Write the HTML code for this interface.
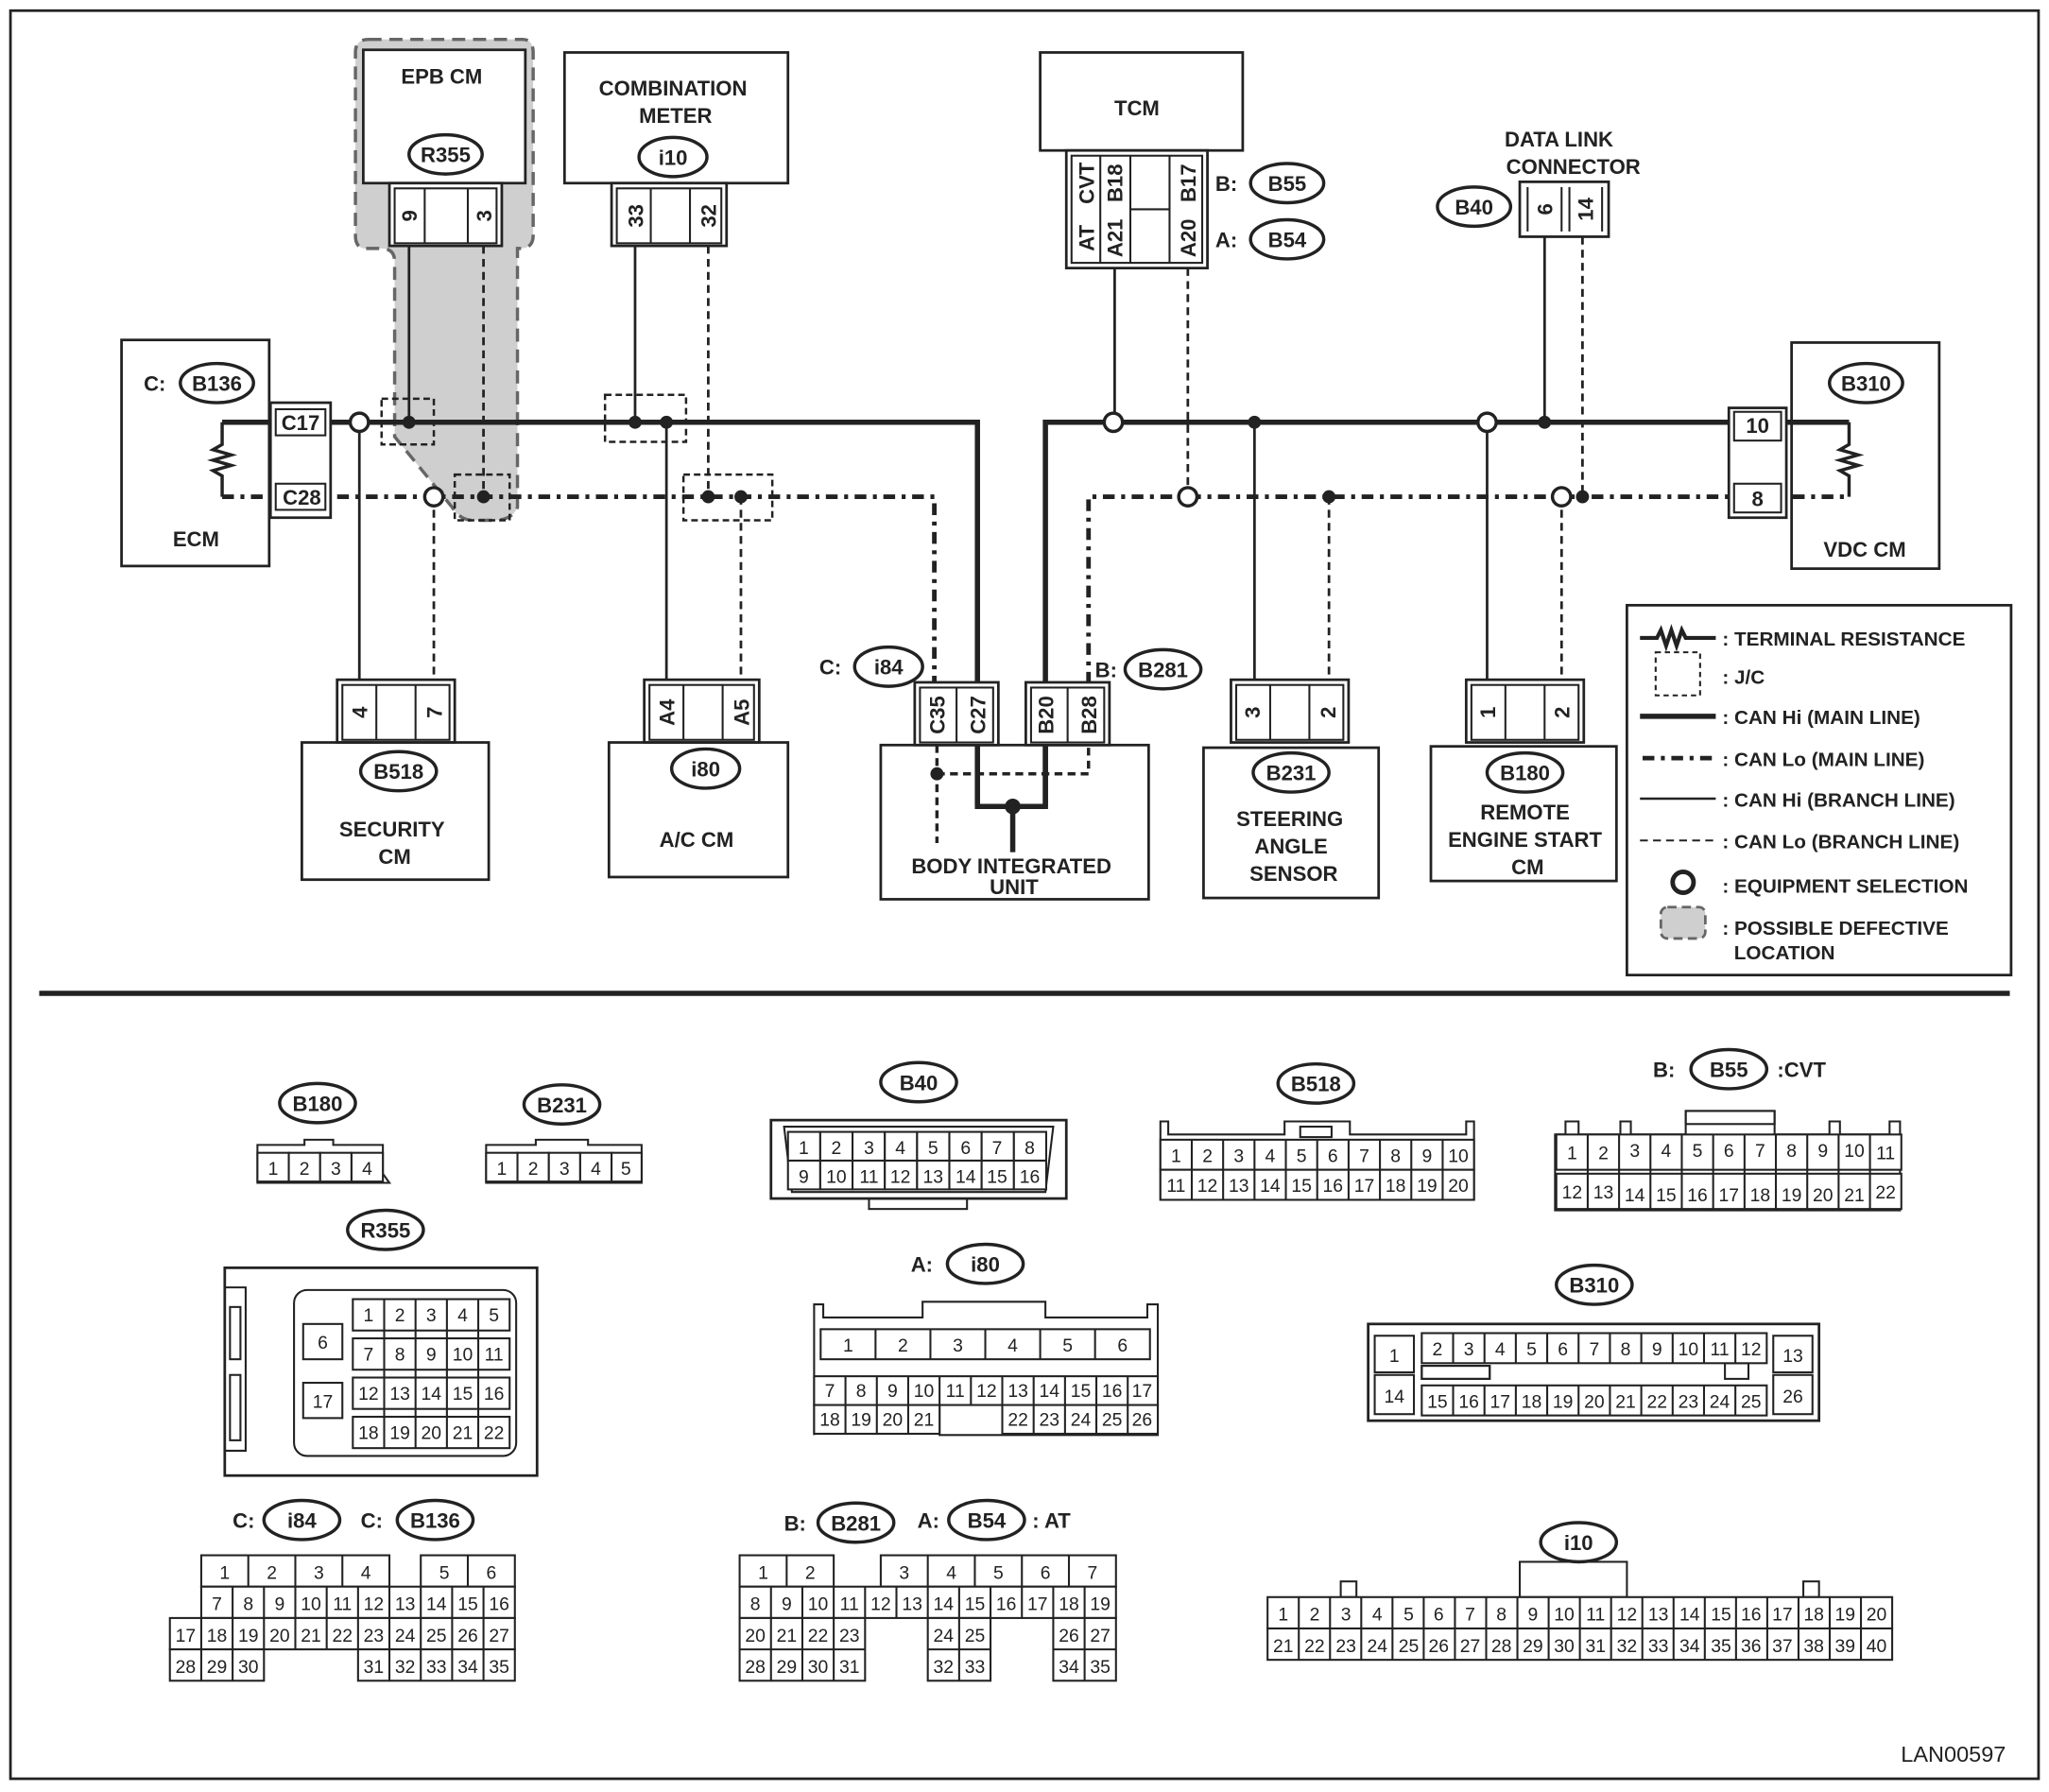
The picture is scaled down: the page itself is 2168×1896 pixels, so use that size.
<!DOCTYPE html>
<html><head><meta charset="utf-8">
<style>
html,body{margin:0;padding:0;background:#fff;}
svg{display:block;}
text{font-family:"Liberation Sans",Arial,sans-serif;fill:#222;}
.b{font-weight:bold;font-size:16px;}
.c{font-size:14px;text-anchor:middle;}
.m{text-anchor:middle;}
</style></head><body>
<svg width="2168" height="1896" viewBox="0 0 1568 1371" xmlns="http://www.w3.org/2000/svg">
<rect x="0" y="0" width="1568" height="1371" fill="#fff"/>
<rect x="8" y="8" width="1552" height="1353" fill="none" stroke="#222" stroke-width="2"/>
<line x1="30" y1="760" x2="1538" y2="760" stroke="#222" stroke-width="4"/>

<g stroke="#222" fill="none">
<!-- gray defective region -->
<path d="M282,30 H400 Q408,30 408,40 V180 Q408,190 398,190 H396 V388 Q392,398 378,398 H362 Q352,398 346,388 L302,334 V200 Q302,190 292,190 H280 Q272,190 272,180 V40 Q272,30 282,30 Z" fill="#cfcfcf" stroke="#666" stroke-width="2.5" stroke-dasharray="10,6"/>

<!-- main lines -->
<polyline points="170,323 748,323 748,617" stroke-width="4"/>
<polyline points="800,617 800,323 1415,323" stroke-width="4"/>
<polyline points="170,380 715,380 715,567" stroke-width="3.5" stroke-dasharray="9,5,3,5"/>
<polyline points="833,567 833,380 1415,380" stroke-width="3.5" stroke-dasharray="9,5,3,5"/>
<!-- resistors -->
<polyline points="170,323 170,340 163,344 177,348 163,352 177,356 163,360 170,364 170,380" stroke-width="2.5"/>
<polyline points="1415,323 1415,340 1408,344 1422,348 1408,352 1422,356 1408,360 1415,364 1415,380" stroke-width="2.5"/>

<!-- ECM -->
<rect x="93" y="260" width="113" height="173" stroke-width="2" fill="#fff" fill-opacity="0"/>
<rect x="207" y="308" width="46" height="88" stroke-width="2" fill="#fff"/>
<rect x="211" y="313" width="38" height="20" stroke-width="1.5"/>
<rect x="211" y="370" width="38" height="20" stroke-width="1.5"/>
<!-- VDC -->
<rect x="1371" y="262" width="113" height="173" stroke-width="2"/>
<rect x="1323" y="312" width="44" height="84" stroke-width="2" fill="#fff"/>
<rect x="1327" y="315" width="36" height="22" stroke-width="1.5"/>
<rect x="1327" y="370" width="36" height="22" stroke-width="1.5"/>

<!-- EPB CM -->
<rect x="278" y="38" width="124" height="102" stroke-width="2" fill="#fff"/>
<rect x="298" y="140" width="86" height="48" stroke-width="2" fill="#fff"/>
<rect x="302" y="144" width="78" height="42" stroke-width="1.5"/>
<line x1="325" y1="144" x2="325" y2="186" stroke-width="1.5"/><line x1="358" y1="144" x2="358" y2="186" stroke-width="1.5"/>
<line x1="313" y1="188" x2="313" y2="323" stroke-width="2"/>
<line x1="370" y1="188" x2="370" y2="380" stroke-width="2" stroke-dasharray="6,4"/>

<!-- combination meter -->
<rect x="432" y="40" width="171" height="100" stroke-width="2"/>
<rect x="468" y="140" width="88" height="48" stroke-width="2" fill="#fff"/>
<rect x="472" y="144" width="80" height="42" stroke-width="1.5"/>
<line x1="498" y1="144" x2="498" y2="186" stroke-width="1.5"/><line x1="528" y1="144" x2="528" y2="186" stroke-width="1.5"/>
<line x1="486" y1="188" x2="486" y2="323" stroke-width="2"/>
<line x1="542" y1="188" x2="542" y2="380" stroke-width="2" stroke-dasharray="6,4"/>

<!-- TCM -->
<rect x="796" y="40" width="155" height="75" stroke-width="2"/>
<rect x="816" y="115" width="108" height="90" stroke-width="2" fill="#fff"/>
<rect x="820" y="119" width="100" height="82" stroke-width="1.5"/>
<line x1="842" y1="119" x2="842" y2="201" stroke-width="1.5"/>
<line x1="865" y1="119" x2="865" y2="201" stroke-width="1.5"/>
<line x1="895" y1="119" x2="895" y2="201" stroke-width="1.5"/>
<line x1="865" y1="160" x2="895" y2="160" stroke-width="1.5"/>
<line x1="853" y1="205" x2="853" y2="323" stroke-width="2"/>
<line x1="909" y1="205" x2="909" y2="380" stroke-width="2" stroke-dasharray="6,4"/>

<!-- DLC -->
<rect x="1163" y="139" width="68" height="42" stroke-width="2" fill="#fff"/>
<line x1="1169" y1="143" x2="1169" y2="177" stroke-width="1.5"/>
<line x1="1195" y1="143" x2="1195" y2="177" stroke-width="1.5"/>
<line x1="1201" y1="143" x2="1201" y2="177" stroke-width="1.5"/>
<line x1="1226" y1="143" x2="1226" y2="177" stroke-width="1.5"/>
<line x1="1182" y1="181" x2="1182" y2="323" stroke-width="2"/>
<line x1="1211" y1="181" x2="1211" y2="380" stroke-width="2" stroke-dasharray="6,4"/>

<!-- J/C boxes -->
<g stroke-width="1.8" stroke-dasharray="5,3">
<rect x="292" y="305" width="40" height="35"/>
<rect x="348" y="363" width="42" height="35"/>
<rect x="463" y="302" width="62" height="36"/>
<rect x="523" y="363" width="68" height="35"/>
</g>

<!-- branch lines down -->
<line x1="275" y1="323" x2="275" y2="522" stroke-width="2"/>
<line x1="332" y1="380" x2="332" y2="522" stroke-width="2" stroke-dasharray="6,4"/>
<line x1="510" y1="323" x2="510" y2="522" stroke-width="2"/>
<line x1="567" y1="380" x2="567" y2="522" stroke-width="2" stroke-dasharray="6,4"/>
<line x1="960" y1="323" x2="960" y2="522" stroke-width="2"/>
<line x1="1017" y1="380" x2="1017" y2="522" stroke-width="2" stroke-dasharray="6,4"/>
<line x1="1138" y1="323" x2="1138" y2="522" stroke-width="2"/>
<line x1="1195" y1="380" x2="1195" y2="522" stroke-width="2" stroke-dasharray="6,4"/>

<!-- Security -->
<rect x="258" y="520" width="90" height="48" stroke-width="2" fill="#fff"/>
<rect x="262" y="524" width="82" height="42" stroke-width="1.5"/>
<line x1="288" y1="524" x2="288" y2="566" stroke-width="1.5"/><line x1="318" y1="524" x2="318" y2="566" stroke-width="1.5"/>
<rect x="231" y="568" width="143" height="105" stroke-width="2"/>
<!-- A/C -->
<rect x="493" y="520" width="88" height="48" stroke-width="2" fill="#fff"/>
<rect x="497" y="524" width="80" height="42" stroke-width="1.5"/>
<line x1="523" y1="524" x2="523" y2="566" stroke-width="1.5"/><line x1="553" y1="524" x2="553" y2="566" stroke-width="1.5"/>
<rect x="466" y="568" width="137" height="103" stroke-width="2"/>
<!-- BIU -->
<rect x="674" y="570" width="205" height="118" stroke-width="2"/>
<rect x="700" y="522" width="64" height="48" stroke-width="2" fill="#fff"/>
<rect x="704" y="526" width="56" height="42" stroke-width="1.5"/>
<line x1="732" y1="526" x2="732" y2="568" stroke-width="1.5"/>
<rect x="785" y="522" width="64" height="48" stroke-width="2" fill="#fff"/>
<rect x="789" y="526" width="56" height="42" stroke-width="1.5"/>
<line x1="817" y1="526" x2="817" y2="568" stroke-width="1.5"/>
<polyline points="748,570 748,617 800,617 800,570" stroke-width="4"/>
<line x1="775" y1="617" x2="775" y2="652" stroke-width="4"/>
<polyline points="717,570 717,645" stroke-width="2.5" stroke-dasharray="6,4"/>
<polyline points="717,592 833,592 833,570" stroke-width="2.5" stroke-dasharray="6,4"/>
<!-- Steering -->
<rect x="942" y="520" width="90" height="48" stroke-width="2" fill="#fff"/>
<rect x="946" y="524" width="82" height="42" stroke-width="1.5"/>
<line x1="972" y1="524" x2="972" y2="566" stroke-width="1.5"/><line x1="1002" y1="524" x2="1002" y2="566" stroke-width="1.5"/>
<rect x="921" y="572" width="134" height="115" stroke-width="2"/>
<!-- Remote -->
<rect x="1122" y="520" width="90" height="48" stroke-width="2" fill="#fff"/>
<rect x="1126" y="524" width="82" height="42" stroke-width="1.5"/>
<line x1="1152" y1="524" x2="1152" y2="566" stroke-width="1.5"/><line x1="1182" y1="524" x2="1182" y2="566" stroke-width="1.5"/>
<rect x="1095" y="571" width="142" height="103" stroke-width="2"/>

<!-- ovals -->
<g stroke-width="2.5" fill="#fff">
<ellipse cx="166" cy="293" rx="28" ry="15"/>
<ellipse cx="341" cy="118" rx="28" ry="15"/>
<ellipse cx="515" cy="120" rx="26" ry="15"/>
<ellipse cx="985" cy="140" rx="28" ry="15"/>
<ellipse cx="985" cy="183" rx="28" ry="15"/>
<ellipse cx="1128" cy="158" rx="28" ry="15"/>
<ellipse cx="1428" cy="293" rx="28" ry="15"/>
<ellipse cx="305" cy="590" rx="29" ry="15"/>
<ellipse cx="540" cy="588" rx="26" ry="15"/>
<ellipse cx="680" cy="510" rx="26" ry="15"/>
<ellipse cx="890" cy="512" rx="29" ry="15"/>
<ellipse cx="988" cy="591" rx="29" ry="15"/>
<ellipse cx="1167" cy="591" rx="29" ry="15"/>
</g>
<!-- open circles -->
<g stroke-width="2.5" fill="#fff">
<circle cx="275" cy="323" r="7"/><circle cx="332" cy="380" r="7"/>
<circle cx="852" cy="323" r="7"/><circle cx="909" cy="380" r="7"/>
<circle cx="1138" cy="323" r="7"/><circle cx="1195" cy="380" r="7"/>
</g>
</g>
<!-- dots -->
<g fill="#222">
<circle cx="313" cy="323" r="5"/><circle cx="370" cy="380" r="5"/>
<circle cx="486" cy="323" r="5"/><circle cx="510" cy="323" r="5"/>
<circle cx="542" cy="380" r="5"/><circle cx="567" cy="380" r="5"/>
<circle cx="960" cy="323" r="5"/><circle cx="1182" cy="323" r="5"/>
<circle cx="1017" cy="380" r="5"/><circle cx="1211" cy="380" r="5"/>
<circle cx="717" cy="592" r="5"/><circle cx="775" cy="617" r="6"/>
</g>

<!-- top labels -->
<g class="b">
<text x="338" y="64" class="m">EPB CM</text>
<text x="341" y="124" class="m">R355</text>
<text x="515" y="73" class="m">COMBINATION</text>
<text x="517" y="94" class="m">METER</text>
<text x="515" y="126" class="m">i10</text>
<text x="870" y="88" class="m">TCM</text>
<text x="930" y="146">B:</text><text x="985" y="146" class="m">B55</text>
<text x="930" y="189">A:</text><text x="985" y="189" class="m">B54</text>
<text x="1193" y="112" class="m">DATA LINK</text>
<text x="1204" y="133" class="m">CONNECTOR</text>
<text x="1128" y="164" class="m">B40</text>
<text x="110" y="299">C:</text><text x="166" y="299" class="m">B136</text>
<text x="150" y="418" class="m">ECM</text>
<text x="1428" y="299" class="m">B310</text>
<text x="1427" y="426" class="m">VDC CM</text>
<text x="230" y="329" class="m">C17</text><text x="231" y="386" class="m">C28</text>
<text x="1345" y="331" class="m">10</text><text x="1345" y="387" class="m">8</text>
<text x="305" y="596" class="m">B518</text>
<text x="300" y="640" class="m">SECURITY</text><text x="302" y="661" class="m">CM</text>
<text x="540" y="594" class="m">i80</text>
<text x="533" y="648" class="m">A/C CM</text>
<text x="627" y="516">C:</text><text x="680" y="516" class="m">i84</text>
<text x="838" y="518">B:</text><text x="890" y="518" class="m">B281</text>
<text x="774" y="668" class="m">BODY INTEGRATED</text><text x="776" y="684" class="m">UNIT</text>
<text x="988" y="597" class="m">B231</text>
<text x="987" y="632" class="m">STEERING</text><text x="988" y="653" class="m">ANGLE</text><text x="990" y="674" class="m">SENSOR</text>
<text x="1167" y="597" class="m">B180</text>
<text x="1167" y="627" class="m">REMOTE</text><text x="1167" y="648" class="m">ENGINE START</text><text x="1169" y="669" class="m">CM</text>
</g>
<!-- rotated pin labels -->
<g class="b">
<text transform="translate(319,165) rotate(-90)" class="m">9</text>
<text transform="translate(376,165) rotate(-90)" class="m">3</text>
<text transform="translate(492,165) rotate(-90)" class="m">33</text>
<text transform="translate(548,165) rotate(-90)" class="m">32</text>
<text transform="translate(837,140) rotate(-90)" class="m">CVT</text>
<text transform="translate(837,182) rotate(-90)" class="m">AT</text>
<text transform="translate(859,140) rotate(-90)" class="m">B18</text>
<text transform="translate(859,182) rotate(-90)" class="m">A21</text>
<text transform="translate(915,140) rotate(-90)" class="m">B17</text>
<text transform="translate(915,182) rotate(-90)" class="m">A20</text>
<text transform="translate(1188,160) rotate(-90)" class="m">6</text>
<text transform="translate(1219,160) rotate(-90)" class="m">14</text>
<text transform="translate(281,545) rotate(-90)" class="m">4</text>
<text transform="translate(338,545) rotate(-90)" class="m">7</text>
<text transform="translate(516,545) rotate(-90)" class="m">A4</text>
<text transform="translate(573,545) rotate(-90)" class="m">A5</text>
<text transform="translate(723,547) rotate(-90)" class="m">C35</text>
<text transform="translate(754,547) rotate(-90)" class="m">C27</text>
<text transform="translate(806,547) rotate(-90)" class="m">B20</text>
<text transform="translate(839,547) rotate(-90)" class="m">B28</text>
<text transform="translate(964,545) rotate(-90)" class="m">3</text>
<text transform="translate(1022,545) rotate(-90)" class="m">2</text>
<text transform="translate(1144,545) rotate(-90)" class="m">1</text>
<text transform="translate(1201,545) rotate(-90)" class="m">2</text>
</g>

<!-- legend -->
<g stroke="#222" fill="none">
<rect x="1245" y="463" width="294" height="283" stroke-width="2"/>
<polyline points="1255,488 1268,488 1271,482 1275,494 1279,482 1283,494 1287,482 1290,488 1313,488" stroke-width="3"/>
<rect x="1267" y="499" width="34" height="33" stroke-width="1.5" stroke-dasharray="4,3"/>
<line x1="1255" y1="548" x2="1313" y2="548" stroke-width="4"/>
<line x1="1257" y1="580" x2="1313" y2="580" stroke-width="3.5" stroke-dasharray="9,5,3,5"/>
<line x1="1255" y1="611" x2="1313" y2="611" stroke-width="1.8"/>
<line x1="1255" y1="643" x2="1313" y2="643" stroke-width="1.5" stroke-dasharray="6,4"/>
<circle cx="1288" cy="675" r="8" stroke-width="3.5"/>
<rect x="1271" y="694" width="34" height="24" rx="5" fill="#cfcfcf" stroke="#666" stroke-width="2" stroke-dasharray="7,4"/>
</g>
<g class="b" style="font-size:15px">
<text x="1318" y="494">: TERMINAL RESISTANCE</text>
<text x="1318" y="523">: J/C</text>
<text x="1318" y="554">: CAN Hi (MAIN LINE)</text>
<text x="1318" y="586">: CAN Lo (MAIN LINE)</text>
<text x="1318" y="617">: CAN Hi (BRANCH LINE)</text>
<text x="1318" y="649">: CAN Lo (BRANCH LINE)</text>
<text x="1318" y="683">: EQUIPMENT SELECTION</text>
<text x="1318" y="715">: POSSIBLE DEFECTIVE</text>
<text x="1327" y="734">LOCATION</text>
</g>

<!-- ===== lower connectors ===== -->
<g stroke="#222" fill="none" stroke-width="2.5">
<ellipse cx="243" cy="844" rx="29" ry="15"/>
<ellipse cx="430" cy="845" rx="29" ry="15"/>
<ellipse cx="703" cy="828" rx="29" ry="15"/>
<ellipse cx="1007" cy="829" rx="29" ry="15"/>
<ellipse cx="1323" cy="818" rx="29" ry="15"/>
<ellipse cx="295" cy="941" rx="29" ry="15"/>
<ellipse cx="754" cy="967" rx="29" ry="15"/>
<ellipse cx="1220" cy="983" rx="29" ry="15"/>
<ellipse cx="231" cy="1163" rx="29" ry="15"/>
<ellipse cx="333" cy="1163" rx="29" ry="15"/>
<ellipse cx="655" cy="1165" rx="29" ry="15"/>
<ellipse cx="755" cy="1163" rx="29" ry="15"/>
<ellipse cx="1208" cy="1180" rx="29" ry="15"/>
</g>
<g class="b">
<text x="243" y="850" class="m">B180</text>
<text x="430" y="851" class="m">B231</text>
<text x="703" y="834" class="m">B40</text>
<text x="1007" y="835" class="m">B518</text>
<text x="1265" y="824">B:</text><text x="1323" y="824" class="m">B55</text><text x="1360" y="824">:CVT</text>
<text x="295" y="947" class="m">R355</text>
<text x="697" y="973">A:</text><text x="754" y="973" class="m">i80</text>
<text x="1220" y="989" class="m">B310</text>
<text x="178" y="1169">C:</text><text x="231" y="1169" class="m">i84</text>
<text x="276" y="1169">C:</text><text x="333" y="1169" class="m">B136</text>
<text x="600" y="1171">B:</text><text x="655" y="1171" class="m">B281</text>
<text x="702" y="1169">A:</text><text x="755" y="1169" class="m">B54</text><text x="790" y="1169">: AT</text>
<text x="1208" y="1186" class="m">i10</text>
</g>

<g stroke="#222" fill="none" stroke-width="1.5">
<!-- B180 -->
<path d="M197,905 V876 H233 V872 H255 V876 H293 V898 L298,905 Z"/>
<!-- B231 -->
<path d="M372,905 V876 H410 V872 H450 V876 H491 V905 Z"/>
<!-- B40 -->
<rect x="590" y="857" width="226" height="60" stroke-width="2"/>
<path d="M600,862 H806 L800,912 H606 Z"/>
<rect x="665" y="917" width="75" height="8"/>
<!-- B518 -->
<path d="M888,918 V858 H894 V868 H983 V858 H1033 V868 H1122 V858 H1128 V918 Z"/>
<rect x="995" y="862" width="24" height="8"/>
<!-- B55 -->
<path d="M1190,926 V868 H1198 V858 H1208 V868 H1240 V858 H1248 V868 H1290 V850 H1358 V868 H1400 V858 H1408 V868 H1446 V858 H1454 V926 Z"/>
<rect x="1290" y="850" width="68" height="10"/>
<!-- R355 -->
<rect x="172" y="970" width="239" height="159" stroke-width="2"/>
<rect x="225" y="987" width="170" height="127" rx="10"/>
<path d="M172,985 H188 V1110 H172"/>
<rect x="176" y="1000" width="8" height="40"/><rect x="176" y="1052" width="8" height="50"/>
<!-- i80 -->
<path d="M623,1098 V998 H630 V1008 H706 V996 H800 V1008 H878 V998 H886 V1098 H719 V1075 H623"/>
<!-- B310 -->
<rect x="1047" y="1013" width="345" height="74" stroke-width="2"/>
<rect x="1088" y="1045" width="52" height="10"/>
<rect x="1320" y="1043" width="18" height="12"/>
<!-- i10 -->
<rect x="1163" y="1195" width="82" height="27"/>
<rect x="1026" y="1210" width="12" height="12"/><rect x="1380" y="1210" width="12" height="12"/>
</g>

<!-- cell grids -->
<g stroke="#222" fill="#fff" stroke-width="1.5">
<!-- B180 -->
<rect x="197" y="882" width="24" height="22"/><rect x="221" y="882" width="24" height="22"/><rect x="245" y="882" width="24" height="22"/><rect x="269" y="882" width="24" height="22"/>
<!-- B231 -->
<rect x="372" y="882" width="24" height="22"/><rect x="396" y="882" width="24" height="22"/><rect x="420" y="882" width="24" height="22"/><rect x="444" y="882" width="24" height="22"/><rect x="468" y="882" width="23" height="22"/>
<!-- B40 -->
<rect x="603" y="866" width="24.7" height="22"/><rect x="627.7" y="866" width="24.7" height="22"/><rect x="652.4" y="866" width="24.7" height="22"/><rect x="677.1" y="866" width="24.7" height="22"/><rect x="701.8" y="866" width="24.7" height="22"/><rect x="726.5" y="866" width="24.7" height="22"/><rect x="751.2" y="866" width="24.7" height="22"/><rect x="775.9" y="866" width="24.7" height="22"/>
<rect x="603" y="888" width="24.7" height="22"/><rect x="627.7" y="888" width="24.7" height="22"/><rect x="652.4" y="888" width="24.7" height="22"/><rect x="677.1" y="888" width="24.7" height="22"/><rect x="701.8" y="888" width="24.7" height="22"/><rect x="726.5" y="888" width="24.7" height="22"/><rect x="751.2" y="888" width="24.7" height="22"/><rect x="775.9" y="888" width="24.7" height="22"/>
</g>
<g class="c">
<text x="209" y="899">1</text><text x="233" y="899">2</text><text x="257" y="899">3</text><text x="281" y="899">4</text>
<text x="384" y="899">1</text><text x="408" y="899">2</text><text x="432" y="899">3</text><text x="456" y="899">4</text><text x="479" y="899">5</text>
<text x="615" y="883">1</text><text x="640" y="883">2</text><text x="665" y="883">3</text><text x="689" y="883">4</text><text x="714" y="883">5</text><text x="739" y="883">6</text><text x="763" y="883">7</text><text x="788" y="883">8</text>
<text x="615" y="905">9</text><text x="640" y="905">10</text><text x="665" y="905">11</text><text x="689" y="905">12</text><text x="714" y="905">13</text><text x="739" y="905">14</text><text x="763" y="905">15</text><text x="788" y="905">16</text>
</g>

<!-- B518 cells -->
<g stroke="#222" fill="#fff" stroke-width="1.5">
<rect x="888" y="872" width="240" height="23"/><rect x="888" y="895" width="240" height="23"/>
<path d="M912,872V918M936,872V918M960,872V918M984,872V918M1008,872V918M1032,872V918M1056,872V918M1080,872V918M1104,872V918" fill="none"/>
<!-- B55 -->
<rect x="1191" y="868" width="264" height="27"/><rect x="1191" y="898" width="264" height="27"/>
<path d="M1215,868V925M1239,868V925M1263,868V925M1287,868V925M1311,868V925M1335,868V925M1359,868V925M1383,868V925M1407,868V925M1431,868V925" fill="none"/>
</g>
<g class="c">
<text x="900" y="889">1</text><text x="924" y="889">2</text><text x="948" y="889">3</text><text x="972" y="889">4</text><text x="996" y="889">5</text><text x="1020" y="889">6</text><text x="1044" y="889">7</text><text x="1068" y="889">8</text><text x="1092" y="889">9</text><text x="1116" y="889">10</text>
<text x="900" y="912">11</text><text x="924" y="912">12</text><text x="948" y="912">13</text><text x="972" y="912">14</text><text x="996" y="912">15</text><text x="1020" y="912">16</text><text x="1044" y="912">17</text><text x="1068" y="912">18</text><text x="1092" y="912">19</text><text x="1116" y="912">20</text>
<text x="1203" y="887">1</text><text x="1227" y="887">2</text><text x="1251" y="885">3</text><text x="1275" y="885">4</text><text x="1299" y="885">5</text><text x="1323" y="885">6</text><text x="1347" y="885">7</text><text x="1371" y="885">8</text><text x="1395" y="885">9</text><text x="1419" y="885">10</text><text x="1443" y="887">11</text>
<text x="1203" y="917">12</text><text x="1227" y="917">13</text><text x="1251" y="919">14</text><text x="1275" y="919">15</text><text x="1299" y="919">16</text><text x="1323" y="919">17</text><text x="1347" y="919">18</text><text x="1371" y="919">19</text><text x="1395" y="919">20</text><text x="1419" y="919">21</text><text x="1443" y="917">22</text>
</g>

<!-- R355 cells -->
<g stroke="#222" fill="#fff" stroke-width="1.5">
<rect x="232" y="1013" width="30" height="27"/><rect x="232" y="1058" width="30" height="27"/>
<rect x="270" y="994" width="120" height="24"/><rect x="270" y="1024" width="120" height="24"/><rect x="270" y="1054" width="120" height="24"/><rect x="270" y="1084" width="120" height="24"/>
<path d="M294,994V1108M318,994V1108M342,994V1108M366,994V1108" fill="none"/>
</g>
<g class="c">
<text x="247" y="1032">6</text><text x="247" y="1077">17</text>
<text x="282" y="1011">1</text><text x="306" y="1011">2</text><text x="330" y="1011">3</text><text x="354" y="1011">4</text><text x="378" y="1011">5</text>
<text x="282" y="1041">7</text><text x="306" y="1041">8</text><text x="330" y="1041">9</text><text x="354" y="1041">10</text><text x="378" y="1041">11</text>
<text x="282" y="1071">12</text><text x="306" y="1071">13</text><text x="330" y="1071">14</text><text x="354" y="1071">15</text><text x="378" y="1071">16</text>
<text x="282" y="1101">18</text><text x="306" y="1101">19</text><text x="330" y="1101">20</text><text x="354" y="1101">21</text><text x="378" y="1101">22</text>
</g>

<!-- i80 cells -->
<g stroke="#222" fill="#fff" stroke-width="1.5">
<rect x="628" y="1017" width="252" height="23"/>
<path d="M670,1017V1040M712,1017V1040M754,1017V1040M796,1017V1040M838,1017V1040" fill="none"/>
<rect x="623" y="1053" width="263" height="22"/>
<path d="M647,1053V1075M671,1053V1075M695,1053V1075M719,1053V1075M743,1053V1075M767,1053V1075M791,1053V1075M815,1053V1075M839,1053V1075M863,1053V1075" fill="none"/>
<rect x="623" y="1075" width="96" height="22"/>
<path d="M647,1075V1097M671,1075V1097M695,1075V1097" fill="none"/>
<rect x="767" y="1075" width="119" height="22"/>
<path d="M791,1075V1097M815,1075V1097M839,1075V1097M863,1075V1097" fill="none"/>
</g>
<g class="c">
<text x="649" y="1034">1</text><text x="691" y="1034">2</text><text x="733" y="1034">3</text><text x="775" y="1034">4</text><text x="817" y="1034">5</text><text x="859" y="1034">6</text>
<text x="635" y="1069">7</text><text x="659" y="1069">8</text><text x="683" y="1069">9</text><text x="707" y="1069">10</text><text x="731" y="1069">11</text><text x="755" y="1069">12</text><text x="779" y="1069">13</text><text x="803" y="1069">14</text><text x="827" y="1069">15</text><text x="851" y="1069">16</text><text x="874" y="1069">17</text>
<text x="635" y="1091">18</text><text x="659" y="1091">19</text><text x="683" y="1091">20</text><text x="707" y="1091">21</text>
<text x="779" y="1091">22</text><text x="803" y="1091">23</text><text x="827" y="1091">24</text><text x="851" y="1091">25</text><text x="874" y="1091">26</text>
</g>

<!-- B310 cells -->
<g stroke="#222" fill="#fff" stroke-width="1.5">
<rect x="1052" y="1022" width="30" height="28"/><rect x="1052" y="1052" width="30" height="30"/>
<rect x="1357" y="1022" width="30" height="28"/><rect x="1357" y="1052" width="30" height="30"/>
<rect x="1088" y="1020" width="264" height="23"/><rect x="1088" y="1060" width="264" height="23"/>
<path d="M1112,1020V1043M1136,1020V1043M1160,1020V1043M1184,1020V1043M1208,1020V1043M1232,1020V1043M1256,1020V1043M1280,1020V1043M1304,1020V1043M1328,1020V1043M1112,1060V1083M1136,1060V1083M1160,1060V1083M1184,1060V1083M1208,1060V1083M1232,1060V1083M1256,1060V1083M1280,1060V1083M1304,1060V1083M1328,1060V1083" fill="none"/>
<rect x="1088" y="1045" width="52" height="10" fill="none"/>
</g>
<g class="c">
<text x="1067" y="1042">1</text><text x="1067" y="1073">14</text><text x="1372" y="1042">13</text><text x="1372" y="1073">26</text>
<text x="1100" y="1037">2</text><text x="1124" y="1037">3</text><text x="1148" y="1037">4</text><text x="1172" y="1037">5</text><text x="1196" y="1037">6</text><text x="1220" y="1037">7</text><text x="1244" y="1037">8</text><text x="1268" y="1037">9</text><text x="1292" y="1037">10</text><text x="1316" y="1037">11</text><text x="1340" y="1037">12</text>
<text x="1100" y="1077">15</text><text x="1124" y="1077">16</text><text x="1148" y="1077">17</text><text x="1172" y="1077">18</text><text x="1196" y="1077">19</text><text x="1220" y="1077">20</text><text x="1244" y="1077">21</text><text x="1268" y="1077">22</text><text x="1292" y="1077">23</text><text x="1316" y="1077">24</text><text x="1340" y="1077">25</text>
</g>

<!-- C:i84 / C:B136 -->
<g stroke="#222" fill="#fff" stroke-width="1.5">
<rect x="154" y="1190" width="144" height="24"/><path d="M190,1190V1214M226,1190V1214M262,1190V1214" fill="none"/>
<rect x="322" y="1190" width="72" height="24"/><path d="M358,1190V1214" fill="none"/>
<rect x="154" y="1214" width="240" height="24"/><path d="M178,1214V1238M202,1214V1238M226,1214V1238M250,1214V1238M274,1214V1238M298,1214V1238M322,1214V1238M346,1214V1238M370,1214V1238" fill="none"/>
<rect x="130" y="1238" width="264" height="24"/><path d="M154,1238V1262M178,1238V1262M202,1238V1262M226,1238V1262M250,1238V1262M274,1238V1262M298,1238V1262M322,1238V1262M346,1238V1262M370,1238V1262" fill="none"/>
<rect x="130" y="1262" width="72" height="24"/><path d="M154,1262V1286M178,1262V1286" fill="none"/>
<rect x="274" y="1262" width="120" height="24"/><path d="M298,1262V1286M322,1262V1286M346,1262V1286M370,1262V1286" fill="none"/>
</g>
<g class="c">
<text x="172" y="1208">1</text><text x="208" y="1208">2</text><text x="244" y="1208">3</text><text x="280" y="1208">4</text><text x="340" y="1208">5</text><text x="376" y="1208">6</text>
<text x="166" y="1232">7</text><text x="190" y="1232">8</text><text x="214" y="1232">9</text><text x="238" y="1232">10</text><text x="262" y="1232">11</text><text x="286" y="1232">12</text><text x="310" y="1232">13</text><text x="334" y="1232">14</text><text x="358" y="1232">15</text><text x="382" y="1232">16</text>
<text x="142" y="1256">17</text><text x="166" y="1256">18</text><text x="190" y="1256">19</text><text x="214" y="1256">20</text><text x="238" y="1256">21</text><text x="262" y="1256">22</text><text x="286" y="1256">23</text><text x="310" y="1256">24</text><text x="334" y="1256">25</text><text x="358" y="1256">26</text><text x="382" y="1256">27</text>
<text x="142" y="1280">28</text><text x="166" y="1280">29</text><text x="190" y="1280">30</text>
<text x="286" y="1280">31</text><text x="310" y="1280">32</text><text x="334" y="1280">33</text><text x="358" y="1280">34</text><text x="382" y="1280">35</text>
</g>

<!-- B281 / B54 -->
<g stroke="#222" fill="#fff" stroke-width="1.5">
<rect x="566" y="1190" width="72" height="24"/><path d="M602,1190V1214" fill="none"/>
<rect x="674" y="1190" width="180" height="24"/><path d="M710,1190V1214M746,1190V1214M782,1190V1214M818,1190V1214" fill="none"/>
<rect x="566" y="1214" width="288" height="24"/><path d="M590,1214V1238M614,1214V1238M638,1214V1238M662,1214V1238M686,1214V1238M710,1214V1238M734,1214V1238M758,1214V1238M782,1214V1238M806,1214V1238M830,1214V1238" fill="none"/>
<rect x="566" y="1238" width="96" height="48"/><path d="M590,1238V1286M614,1238V1286M638,1238V1286M566,1262H662" fill="none"/>
<rect x="710" y="1238" width="48" height="48"/><path d="M734,1238V1286M710,1262H758" fill="none"/>
<rect x="806" y="1238" width="48" height="48"/><path d="M830,1238V1286M806,1262H854" fill="none"/>
</g>
<g class="c">
<text x="584" y="1208">1</text><text x="620" y="1208">2</text><text x="692" y="1208">3</text><text x="728" y="1208">4</text><text x="764" y="1208">5</text><text x="800" y="1208">6</text><text x="836" y="1208">7</text>
<text x="578" y="1232">8</text><text x="602" y="1232">9</text><text x="626" y="1232">10</text><text x="650" y="1232">11</text><text x="674" y="1232">12</text><text x="698" y="1232">13</text><text x="722" y="1232">14</text><text x="746" y="1232">15</text><text x="770" y="1232">16</text><text x="794" y="1232">17</text><text x="818" y="1232">18</text><text x="842" y="1232">19</text>
<text x="578" y="1256">20</text><text x="602" y="1256">21</text><text x="626" y="1256">22</text><text x="650" y="1256">23</text><text x="722" y="1256">24</text><text x="746" y="1256">25</text><text x="818" y="1256">26</text><text x="842" y="1256">27</text>
<text x="578" y="1280">28</text><text x="602" y="1280">29</text><text x="626" y="1280">30</text><text x="650" y="1280">31</text><text x="722" y="1280">32</text><text x="746" y="1280">33</text><text x="818" y="1280">34</text><text x="842" y="1280">35</text>
</g>

<!-- i10 -->
<g stroke="#222" fill="#fff" stroke-width="1.5">
<rect x="970" y="1222" width="478" height="24"/><rect x="970" y="1246" width="478" height="24"/>
<path d="M993.9,1222V1270M1017.8,1222V1270M1041.7,1222V1270M1065.6,1222V1270M1089.5,1222V1270M1113.4,1222V1270M1137.3,1222V1270M1161.2,1222V1270M1185.1,1222V1270M1209,1222V1270M1232.9,1222V1270M1256.8,1222V1270M1280.7,1222V1270M1304.6,1222V1270M1328.5,1222V1270M1352.4,1222V1270M1376.3,1222V1270M1400.2,1222V1270M1424.1,1222V1270" fill="none"/>
</g>
<g class="c">
<text x="982" y="1240">1</text><text x="1006" y="1240">2</text><text x="1030" y="1240">3</text><text x="1054" y="1240">4</text><text x="1078" y="1240">5</text><text x="1101" y="1240">6</text><text x="1125" y="1240">7</text><text x="1149" y="1240">8</text><text x="1173" y="1240">9</text><text x="1197" y="1240">10</text><text x="1221" y="1240">11</text><text x="1245" y="1240">12</text><text x="1269" y="1240">13</text><text x="1293" y="1240">14</text><text x="1317" y="1240">15</text><text x="1340" y="1240">16</text><text x="1364" y="1240">17</text><text x="1388" y="1240">18</text><text x="1412" y="1240">19</text><text x="1436" y="1240">20</text>
<text x="982" y="1264">21</text><text x="1006" y="1264">22</text><text x="1030" y="1264">23</text><text x="1054" y="1264">24</text><text x="1078" y="1264">25</text><text x="1101" y="1264">26</text><text x="1125" y="1264">27</text><text x="1149" y="1264">28</text><text x="1173" y="1264">29</text><text x="1197" y="1264">30</text><text x="1221" y="1264">31</text><text x="1245" y="1264">32</text><text x="1269" y="1264">33</text><text x="1293" y="1264">34</text><text x="1317" y="1264">35</text><text x="1340" y="1264">36</text><text x="1364" y="1264">37</text><text x="1388" y="1264">38</text><text x="1412" y="1264">39</text><text x="1436" y="1264">40</text>
</g>

<text x="1535" y="1348" style="font-size:17px;text-anchor:end">LAN00597</text>
</svg>
</body></html>
